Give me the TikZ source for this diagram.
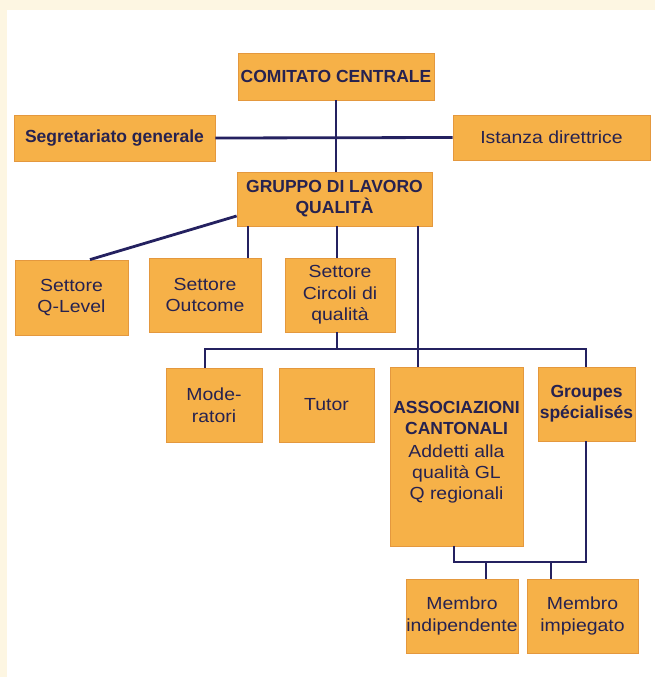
\documentclass[tikz,border=0pt]{standalone}
\usepackage{fontspec}
\setmainfont{Liberation Sans}[UprightFeatures={FakeStretch=1.11},BoldFeatures={FakeStretch=1.0}]
\definecolor{cream}{RGB}{253,246,226}
\definecolor{boxfill}{RGB}{246,177,72}
\definecolor{boxedge}{RGB}{228,152,62}
\definecolor{navy}{RGB}{36,33,96}
\definecolor{ink}{RGB}{38,34,80}
\tikzset{
  box/.style={draw=boxedge, line width=0.8pt, fill=boxfill, inner sep=0pt, align=center, text=ink,
    font=\fontsize{17.5}{21.5}\selectfont},
  bbox/.style={box, font=\fontsize{17.5}{21}\selectfont\bfseries},
  conn/.style={draw=navy, line width=2.8pt}
}
\begin{document}
\begin{tikzpicture}[x=1pt,y=-1pt]
\useasboundingbox (0,0) rectangle (655,677);
\fill[cream] (0,0) rectangle (655,677);
\fill[white] (7,10) rectangle (655,677);

\node[bbox, minimum width=196pt, minimum height=47pt] (cc) at (336,76.5) {COMITATO CENTRALE};
\node[bbox, minimum width=201pt, minimum height=46pt, font=\fontsize{17.5}{21}\selectfont\bfseries\addfontfeature{FakeStretch=1.08}] (seg) at (114.5,138) {Segretariato generale};
\node[box, minimum width=197pt, minimum height=45pt] (ist) at (551.5,137.5) {Istanza direttrice};
\node[bbox, minimum width=195pt, minimum height=54pt] (glq) at (334.5,199) {GRUPPO DI LAVORO\\QUALITÀ};

\node[box, minimum width=113pt, minimum height=75pt] (ql) at (71.5,297.5) {Settore\\Q-Level};
\node[box, minimum width=112pt, minimum height=74pt] (out) at (205,295) {Settore\\Outcome};
\node[box, minimum width=110pt, minimum height=74pt] (cir) at (340,295) {Settore\\Circoli di\\qualità};

\node[box, minimum width=96pt, minimum height=74pt] (mod) at (214,405) {Mode-\\ratori};
\node[box, minimum width=95pt, minimum height=74pt] (tut) at (326.5,405) {Tutor};
\node[box, minimum width=133pt, minimum height=179pt] (ass) at (456.5,456.5) {};
\node[anchor=north, align=center, text=ink, inner sep=0pt, font=\fontsize{17.5}{21}\selectfont] (asst) at (456.5,401)
  {\bfseries ASSOCIAZIONI\\\bfseries CANTONALI\\[2pt]Addetti alla\\qualità GL\\Q regionali};
\node[bbox, minimum width=97pt, minimum height=74pt] (grp) at (586.5,404) {Groupes\\spécialisés};

\node[box, minimum width=112pt, minimum height=74pt] (mi) at (462,616) {Membro\\indipendente};
\node[box, minimum width=111pt, minimum height=74pt] (mp) at (582.5,616) {Membro\\impiegato};

% connectors
\coordinate (hy) at (0,349);
\coordinate (ly) at (0,562);
\coordinate (xo) at (248,0);
\coordinate (xc) at (337,0);
\coordinate (xa) at (418,0);
\coordinate (xm) at (205,0);
\coordinate (xg) at (586,0);
\coordinate (xab) at (454,0);
\coordinate (xmi) at (486,0);
\coordinate (xmp) at (551,0);
\coordinate (dq) at (90,0);

\draw[conn] (cc.south) -- (cc.south |- glq.north);
\draw[conn] (seg.east) -- (ist.west);
\draw[conn] (glq.west |- 0,216) -- (ql.north -| dq);
\draw[conn] (glq.south -| xo) -- (out.north -| xo);
\draw[conn] (glq.south -| xc) -- (cir.north -| xc);
\draw[conn] (glq.south -| xa) -- (ass.north -| xa);
\draw[conn] (cir.south -| xc) -- (hy -| xc);
\draw[conn] (mod.north -| xm) -- (hy -| xm) -- (hy -| xg) -- (grp.north -| xg);
\draw[conn] (ass.south -| xab) -- (ly -| xab) -- (ly -| xg) -- (grp.south -| xg);
\draw[conn] (ly -| xmi) -- (mi.north -| xmi);
\draw[conn] (ly -| xmp) -- (mp.north -| xmp);
\end{tikzpicture}
\end{document}
